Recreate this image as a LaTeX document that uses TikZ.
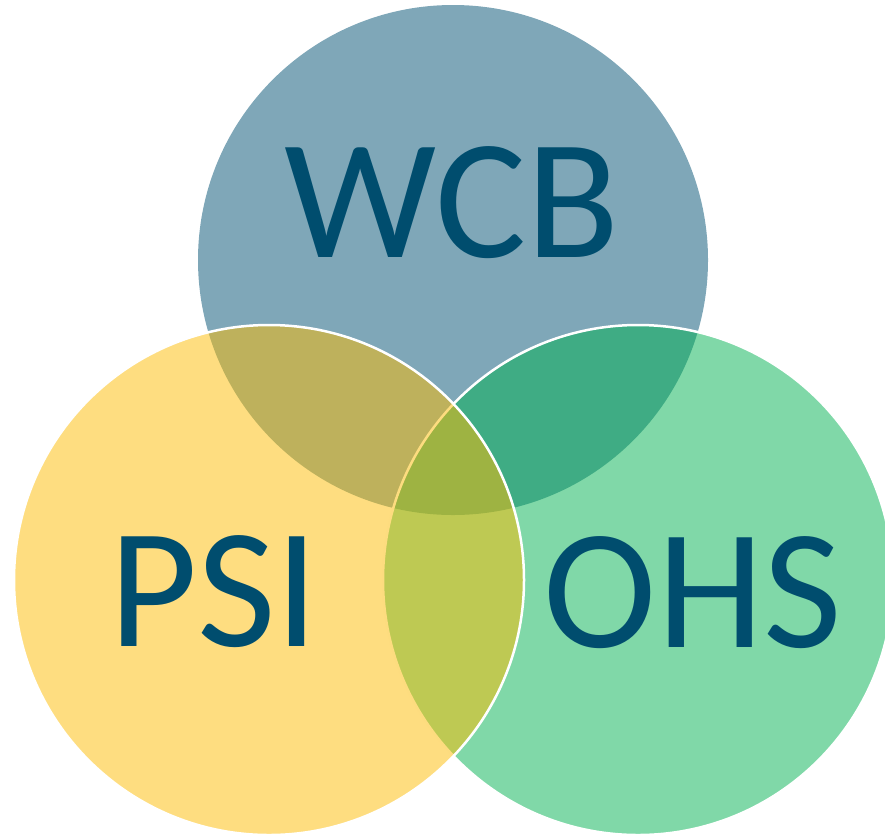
\documentclass[tikz,border=0pt]{standalone}
\usepackage{fontspec}
\setmainfont{Carlito}
\usepackage{tikz}
\definecolor{wcbblue}{HTML}{7FA7B8}
\definecolor{ohsgreen}{HTML}{01B151}
\definecolor{psiyellow}{HTML}{FDBB01}
\definecolor{labelblue}{HTML}{004D6E}

\begin{document}
\begin{tikzpicture}[x=1pt,y=-1pt]
        \tikzstyle{every node} = [circle, inner sep=0pt, outer sep=0pt]
        \tikzstyle{set} = [minimum size=510pt]
        \tikzstyle{seeThrough} = [set, fill opacity=0.5, draw=white, draw opacity=1, line width=2.5pt]
        \tikzstyle{tag} = [rectangle, text=labelblue, font=\fontsize{171}{171}\selectfont]
        \useasboundingbox (0,0) rectangle (885,836);
        \node[set, fill=wcbblue] (top) at (453,260) {};
        \node[seeThrough, fill=ohsgreen] (right) at (638,580) {};
        \node[seeThrough, fill=psiyellow] (left) at (269,580) {};
        \node[tag] (wcb) at (452,203) {WCB};
        \node[tag] (psi) at (214,592) {PSI};
        \node[tag] (ohs) at (693,593) {OHS};
\end{tikzpicture}
\end{document}
